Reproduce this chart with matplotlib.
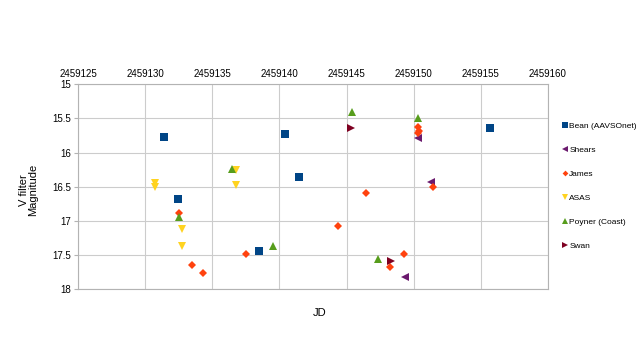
import matplotlib
matplotlib.use('Agg')
import matplotlib.pyplot as plt

plt.rcParams['font.family'] = ['Liberation Sans', 'DejaVu Sans']

jd0 = 2459000

bean_jd = [131.4, 132.45, 138.5, 140.45, 141.45, 155.68]
bean_mag = [15.77, 16.68, 17.44, 15.73, 16.36, 15.64]

shears_jd = [149.38, 150.32, 151.32]
shears_mag = [17.83, 15.79, 16.43]

james_jd = [132.5, 133.46, 134.3, 137.48, 144.39, 146.43, 148.26, 149.3,
            150.35, 150.4, 150.35, 151.44]
james_mag = [16.88, 17.65, 17.76, 17.48, 17.08, 16.6, 17.68, 17.48,
             15.63, 15.68, 15.72, 16.5]

asas_jd = [130.73, 130.73, 132.76, 132.76, 136.8, 136.8]
asas_mag = [16.44, 16.5, 17.12, 17.37, 16.25, 16.48]

poyner_jd = [132.5, 136.5, 139.5, 145.44, 147.35, 150.32]
poyner_mag = [16.94, 16.24, 17.37, 15.4, 17.56, 15.5]

swan_jd = [145.36, 148.3]
swan_mag = [15.64, 17.59]

series = [
    ('Bean (AAVSOnet)', bean_jd, bean_mag, 's', '#004586', 5.5),
    ('Shears', shears_jd, shears_mag, '<', '#6b1a6e', 5.5),
    ('James', james_jd, james_mag, 'D', '#ff420e', 4.2),
    ('ASAS', asas_jd, asas_mag, 'v', '#ffd320', 5.5),
    ('Poyner (Coast)', poyner_jd, poyner_mag, '^', '#579d1c', 5.5),
    ('Swan', swan_jd, swan_mag, '>', '#7e0021', 5.5),
]

fig = plt.figure(figsize=(6.4, 3.6), dpi=100)
ax = fig.add_axes([0.122, 0.197, 0.734, 0.569])

for name, xs, ys, mk, col, ms in series:
    ax.plot([jd0 + x for x in xs], ys, linestyle='none', marker=mk,
            color=col, markersize=ms, markeredgewidth=0, label=name)

ax.set_xlim(2459125, 2459160)
ax.set_ylim(18, 15)
ax.set_xticks(range(2459125, 2459161, 5))
ax.set_yticks([15, 15.5, 16, 16.5, 17, 17.5, 18])
ax.set_yticklabels(['15', '15.5', '16', '16.5', '17', '17.5', '18'])
ax.xaxis.tick_top()
ax.ticklabel_format(axis='x', useOffset=False, style='plain')
ax.tick_params(axis='x', length=0, labelsize=7, pad=4)
ax.tick_params(axis='y', length=3, labelsize=7, pad=2, color='#b3b3b3')
ax.grid(True, color='#cccccc', linewidth=0.8)
ax.set_axisbelow(True)
for s in ax.spines.values():
    s.set_color('#b3b3b3')

fig.text(0.5, 0.13, 'JD', ha='center', va='center', fontsize=8)
fig.text(0.045, 0.472, 'V filter\nMagnitude', ha='center', va='center',
         rotation=90, fontsize=8, linespacing=0.95)

fig.legend(loc='upper left', bbox_to_anchor=(0.876, 0.662), frameon=False,
           fontsize=6, handletextpad=0.05, labelspacing=1.95, handlelength=1,
           borderaxespad=0, borderpad=0, markerscale=0.7)

fig.savefig('out.png', dpi=100)
